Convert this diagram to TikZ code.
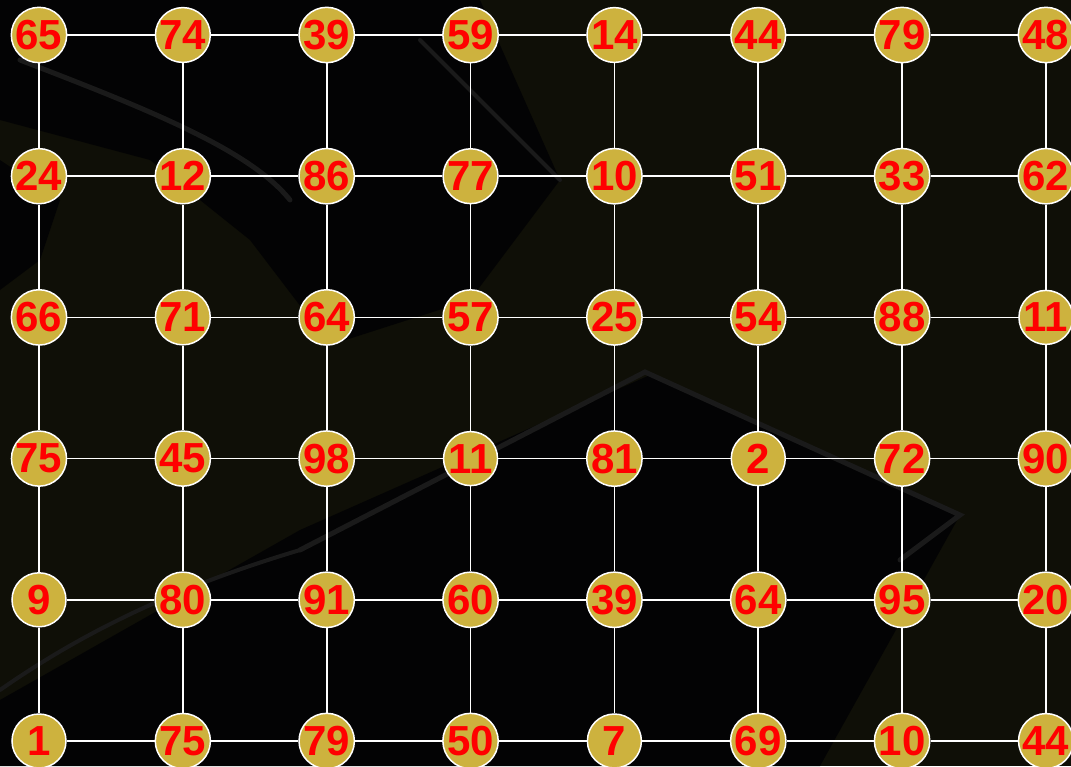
\documentclass[tikz,border=0pt]{standalone}
\usepackage{fontspec}
\setmainfont{Liberation Sans}
\definecolor{bgolive}{RGB}{15,15,7}
\definecolor{bgdark}{RGB}{3,3,4}
\definecolor{bghl}{RGB}{26,26,26}
\definecolor{gold}{RGB}{205,178,62}
\definecolor{numred}{RGB}{255,0,0}
\tikzset{
  numnode/.style={circle, fill=gold, draw=white, line width=1.5pt, minimum size=54pt, inner sep=0pt,
    text=numred, font=\fontsize{42}{42}\selectfont\bfseries},
  gridedge/.style={draw=white, line width=1.6pt}
}
\begin{document}
\begin{tikzpicture}[x=1pt,y=-1pt]
\useasboundingbox (0,0) rectangle (1071,766);
% background
\fill[bgolive] (0,0) rectangle (1071,766);
\fill[bgdark] (0,0) -- (480,0) -- (560,180) -- (470,300) -- (330,345) -- (250,240) -- (150,160) -- (0,120) -- cycle;
\fill[bgdark] (0,160) -- (60,200) -- (40,260) -- (0,290) -- cycle;
\fill[bgdark] (0,766) -- (0,700) -- (300,530) -- (650,375) -- (960,515) -- (820,766) -- cycle;
\draw[bghl, line width=5pt, line cap=round] (20,60) .. controls (150,110) and (250,150) .. (290,200);
\draw[bghl, line width=4pt, line cap=round] (420,40) -- (560,180);
\draw[bghl, line width=5pt, line cap=round] (300,550) -- (645,372) -- (960,515) -- (900,560);
\draw[bghl, line width=4pt, line cap=round] (0,690) .. controls (100,620) and (200,580) .. (300,550);
% nodes
\foreach \row [count=\j from 0] in {
  {65,74,39,59,14,44,79,48},
  {24,12,86,77,10,51,33,62},
  {66,71,64,57,25,54,88,11},
  {75,45,98,11,81,2,72,90},
  {9,80,91,60,39,64,95,20},
  {1,75,79,50,7,69,10,44}}{
  \foreach \v [count=\i from 0] in \row {
    \node[numnode] (n-\i-\j) at ({39+143.85*\i},{35+141.2*\j}) {\v};
  }
}
% edges
\foreach \j in {0,...,5}{
  \foreach \i [evaluate=\i as \k using int(\i+1)] in {0,...,6}{
    \draw[gridedge] (n-\i-\j) -- (n-\k-\j);
  }
}
\foreach \i in {0,...,7}{
  \foreach \j [evaluate=\j as \k using int(\j+1)] in {0,...,4}{
    \draw[gridedge] (n-\i-\j) -- (n-\i-\k);
  }
}
\end{tikzpicture}
\end{document}
